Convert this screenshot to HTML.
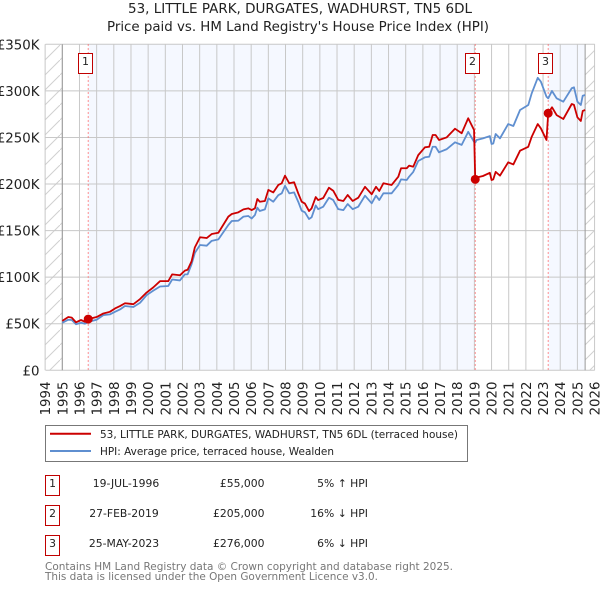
<!DOCTYPE html>
<html>
<head>
<meta charset="utf-8">
<style>
html,body{margin:0;padding:0;background:#fff;}
svg{display:block;font-family:"DejaVu Sans","Liberation Sans",sans-serif;}
</style>
</head>
<body>
<svg id="chart" xmlns="http://www.w3.org/2000/svg" width="600" height="590" viewBox="0 0 600 590">
<defs>
<pattern id="hatch" width="15" height="15" patternUnits="userSpaceOnUse">
<path d="M-1,16 L16,-1" stroke="#d0d0d0" stroke-width="1" fill="none"/>
</pattern>
</defs>
<rect x="0" y="0" width="600" height="590" fill="#fff"/>
<text x="300" y="13" text-anchor="middle" font-size="13.33" fill="#222" textLength="344" lengthAdjust="spacingAndGlyphs">53, LITTLE PARK, DURGATES, WADHURST, TN5 6DL</text>
<text x="298" y="31" text-anchor="middle" font-size="13.33" fill="#222" textLength="382" lengthAdjust="spacingAndGlyphs">Price paid vs. HM Land Registry's House Price Index (HPI)</text>
<g id="plot"></g>

<g>
<rect x="45.5" y="425.5" width="422" height="36" fill="#fff" stroke="#777" stroke-width="1"/>
<line x1="50" x2="91" y1="433.7" y2="433.7" stroke="#cc0000" stroke-width="2"/>
<text x="100" y="438" font-size="11" fill="#222" textLength="358" lengthAdjust="spacingAndGlyphs">53, LITTLE PARK, DURGATES, WADHURST, TN5 6DL (terraced house)</text>
<line x1="50" x2="91" y1="451" y2="451" stroke="#5f8fd0" stroke-width="2"/>
<text x="100" y="455" font-size="11" fill="#222" textLength="234" lengthAdjust="spacingAndGlyphs">HPI: Average price, terraced house, Wealden</text>
</g>

<g font-size="10.8" fill="#222">
<rect x="45.5" y="475.5" width="14" height="20" fill="#fff" stroke="#c00000"/>
<text x="52.5" y="487" text-anchor="middle">1</text>
<text x="126" y="487" text-anchor="middle">19-JUL-1996</text>
<text x="264.5" y="487" text-anchor="end">£55,000</text>
<text x="368" y="487" text-anchor="end">5% ↑ HPI</text>

<rect x="45.5" y="505.5" width="14" height="20" fill="#fff" stroke="#c00000"/>
<text x="52.5" y="517" text-anchor="middle">2</text>
<text x="124" y="517" text-anchor="middle">27-FEB-2019</text>
<text x="264.5" y="517" text-anchor="end">£205,000</text>
<text x="368" y="517" text-anchor="end">16% ↓ HPI</text>

<rect x="45.5" y="535.5" width="14" height="20" fill="#fff" stroke="#c00000"/>
<text x="52.5" y="547" text-anchor="middle">3</text>
<text x="124" y="547" text-anchor="middle">25-MAY-2023</text>
<text x="264.5" y="547" text-anchor="end">£276,000</text>
<text x="368" y="547" text-anchor="end">6% ↓ HPI</text>
</g>

<text x="45" y="570" font-size="11" fill="#777" textLength="408" lengthAdjust="spacingAndGlyphs">Contains HM Land Registry data © Crown copyright and database right 2025.</text>
<text x="45" y="580" font-size="11" fill="#777" textLength="333" lengthAdjust="spacingAndGlyphs">This data is licensed under the Open Government Licence v3.0.</text>
</svg>

<script>
var yearTicks = [1994,1995,1996,1997,1998,1999,2000,2001,2002,2003,2004,2005,2006,2007,2008,2009,2010,2011,2012,2013,2014,2015,2016,2017,2018,2019,2020,2021,2022,2023,2024,2025,2026];
var priceTicks = [0,50,100,150,200,250,300,350];
var priceTickLabels = ['£0','£50K','£100K','£150K','£200K','£250K','£300K','£350K'];
var saleNumbers = ['1','2','3'];
var saleDates = [1996.51,2019.05,2023.3];
var salePrices = [55,205,276];
var dataStart = 1995;
var dataEnd = 2025.45;

var dates = [1995,1995.35,1995.55,1995.8,1996.09,1996.32,1996.51,1997,1997.39,1997.77,1998.07,1998.36,1998.65,1999.14,1999.53,1999.91,2000.3,2000.69,2001.17,2001.4,2001.85,2002.14,2002.3,2002.53,2002.72,2003.02,2003.41,2003.7,2004.09,2004.67,2004.87,2005.25,2005.55,2005.83,2006.03,2006.22,2006.36,2006.5,2006.8,2007,2007.29,2007.58,2007.78,2007.97,2008.22,2008.5,2008.74,2008.94,2009.13,2009.37,2009.52,2009.76,2009.9,2010.2,2010.53,2010.78,2011.07,2011.37,2011.62,2011.91,2012.24,2012.63,2013.02,2013.27,2013.46,2013.7,2014.18,2014.57,2014.73,2015.06,2015.2,2015.44,2015.73,2016.12,2016.37,2016.57,2016.74,2016.94,2017.38,2017.87,2018.26,2018.64,2018.98,2019.05,2019.13,2019.5,2019.9,2020,2020.1,2020.24,2020.49,2020.97,2021.27,2021.66,2022.14,2022.34,2022.69,2022.87,2023.2,2023.3,2023.52,2023.79,2024.18,2024.67,2024.8,2025,2025.2,2025.31,2025.45];

var hpiValues = [51,54.3,54,49.4,51,50,52,54.3,59.2,60,62.8,65.3,69,68,72.5,80.7,85.5,90,90.5,97.5,96.5,103,103,114,126,134.5,133.8,139,140.6,156,160.3,160.6,165,165.7,163,166.7,174.6,171,172.8,184.6,181,188,190,198,190,191,181,171.4,169.6,162.4,164.3,177,173,175.7,185.3,182.8,173,172,178.5,173,175.7,187.5,179.3,187.5,182.8,190,190,199,205,204.3,207.9,213,224.7,228.7,229.3,240,240,234,237.3,244.8,242,256,245.4,244.5,247.3,249,251.5,243,243.5,253.7,249,264.4,262.3,279.5,284.8,297.4,314,310,293.7,292,299.9,292,288.4,302.8,303.8,288.4,284.8,294.8,295.6];

var priceValues = [53,57.2,56.5,51.5,54,52,55,57.2,61,62.8,66.4,69,72,71,76.5,83.5,89,95.7,95.7,103,102,107,108,117,132,142.8,142,146.3,147.7,165,167.8,169.6,172.8,173.9,172,173.9,183.9,181,181.8,193.6,191,199,200.8,208.9,200.8,201.9,190,181,179,171,173.9,186,182.8,185,196,192.8,183,181.8,188.2,181.8,185.3,197,189,197,192.5,200.8,199,207.9,216.9,216.9,219.7,218.6,231,239.4,240,252.6,252.6,247.3,250,259.4,254.5,270.6,258,205,207,208.6,212,204.3,205,213,209,223.3,221,235.8,240,250.8,264.4,259.8,247.3,276,282.4,274,269.8,285.9,285,271.6,267.7,278.4,279.5];

var NS = 'http://www.w3.org/2000/svg';
var plot = document.getElementById('plot');
var plotLeft = 45.5, plotRight = 594.7, plotTop = 44.3, plotBottom = 370.3;

function xScale(year) { return 62.3 + (year - 1995) * 17.17; }
function yScale(k) { return plotBottom - k * (plotBottom - plotTop) / 350; }
function make(tag, attrs, parent) {
  var el = document.createElementNS(NS, tag);
  for (var key in attrs) { el.setAttribute(key, attrs[key]); }
  (parent || plot).appendChild(el);
  return el;
}

var el;
el = make('rect', {x: plotLeft, y: plotTop, width: xScale(dataStart) - plotLeft, height: plotBottom - plotTop, fill: 'url(#hatch)'});


el = make('rect', {x: xScale(dataEnd), y: plotTop, width: plotRight - xScale(dataEnd), height: plotBottom - plotTop, fill: 'url(#hatch)'});



el = make('rect', {x: xScale(saleDates[0]), y: plotTop, width: xScale(saleDates[1]) - xScale(saleDates[0]), height: plotBottom - plotTop, fill: '#f5f8ff'});


el = make('rect', {x: xScale(saleDates[2]), y: plotTop, width: xScale(dataEnd) - xScale(saleDates[2]), height: plotBottom - plotTop, fill: '#f5f8ff'});



yearTicks.forEach(function (yr) {
  var gx = make('line', {x1: xScale(yr), x2: xScale(yr), y1: plotTop, y2: plotBottom, stroke: '#c8c8c8', 'stroke-width': 1});
  
  
  var tx = xScale(yr) + 5;
  var lbl = make('text', {x: tx, y: 381.5, 'text-anchor': 'end', 'font-size': 13.33, fill: '#222', transform: 'rotate(-90 ' + tx + ' 381.5)'});
  
  
  lbl.textContent = yr;
});
priceTicks.forEach(function (v, i) {
  var gy = make('line', {x1: plotLeft, x2: plotRight, y1: yScale(v), y2: yScale(v), stroke: '#c8c8c8', 'stroke-width': 1});
  
  
  var lbl = make('text', {x: 39.5, y: yScale(v) + 5, 'text-anchor': 'end', 'font-size': 13.33, fill: '#222'});
  
  
  lbl.textContent = priceTickLabels[i];
});

el = make('line', {x1: xScale(dataStart), x2: xScale(dataStart), y1: plotTop, y2: plotBottom, stroke: '#999', 'stroke-width': 1});


el = make('line', {x1: xScale(dataEnd), x2: xScale(dataEnd), y1: plotTop, y2: plotBottom, stroke: '#999', 'stroke-width': 1});



saleDates.forEach(function (d) {
  var ln = make('line', {x1: xScale(d), x2: xScale(d), y1: plotTop, y2: plotBottom, stroke: '#ff6b6b', 'stroke-width': 1, 'stroke-dasharray': '1.5 2.5'});
  
  
});

function linePath(values) {
  return values.map(function (v, i) {
    return (i ? 'L' : 'M') + xScale(dates[i]).toFixed(2) + ',' + yScale(v).toFixed(2);
  }).join(' ');
}
el = make('path', {d: linePath(hpiValues), fill: 'none', stroke: '#5f8fd0', 'stroke-width': 1.8, 'stroke-linejoin': 'round'});


el = make('path', {d: linePath(priceValues), fill: 'none', stroke: '#cc0000', 'stroke-width': 1.8, 'stroke-linejoin': 'round'});



saleDates.forEach(function (d, i) {
  var dot = make('circle', {cx: xScale(d), cy: yScale(salePrices[i]), r: 4.5, fill: '#cc0000'});
  
  
  var box = make('rect', {x: Math.round(xScale(d) - 10) + 0.5, y: 53.5, width: 14, height: 20, fill: '#fff', stroke: '#c00000', 'stroke-width': 1});
  
  
  var num = make('text', {x: Math.round(xScale(d) - 10) + 7.5, y: 65, 'text-anchor': 'middle', 'font-size': 11, fill: '#222'});
  
  
  num.textContent = saleNumbers[i];
});
</script>
</body>
</html>
